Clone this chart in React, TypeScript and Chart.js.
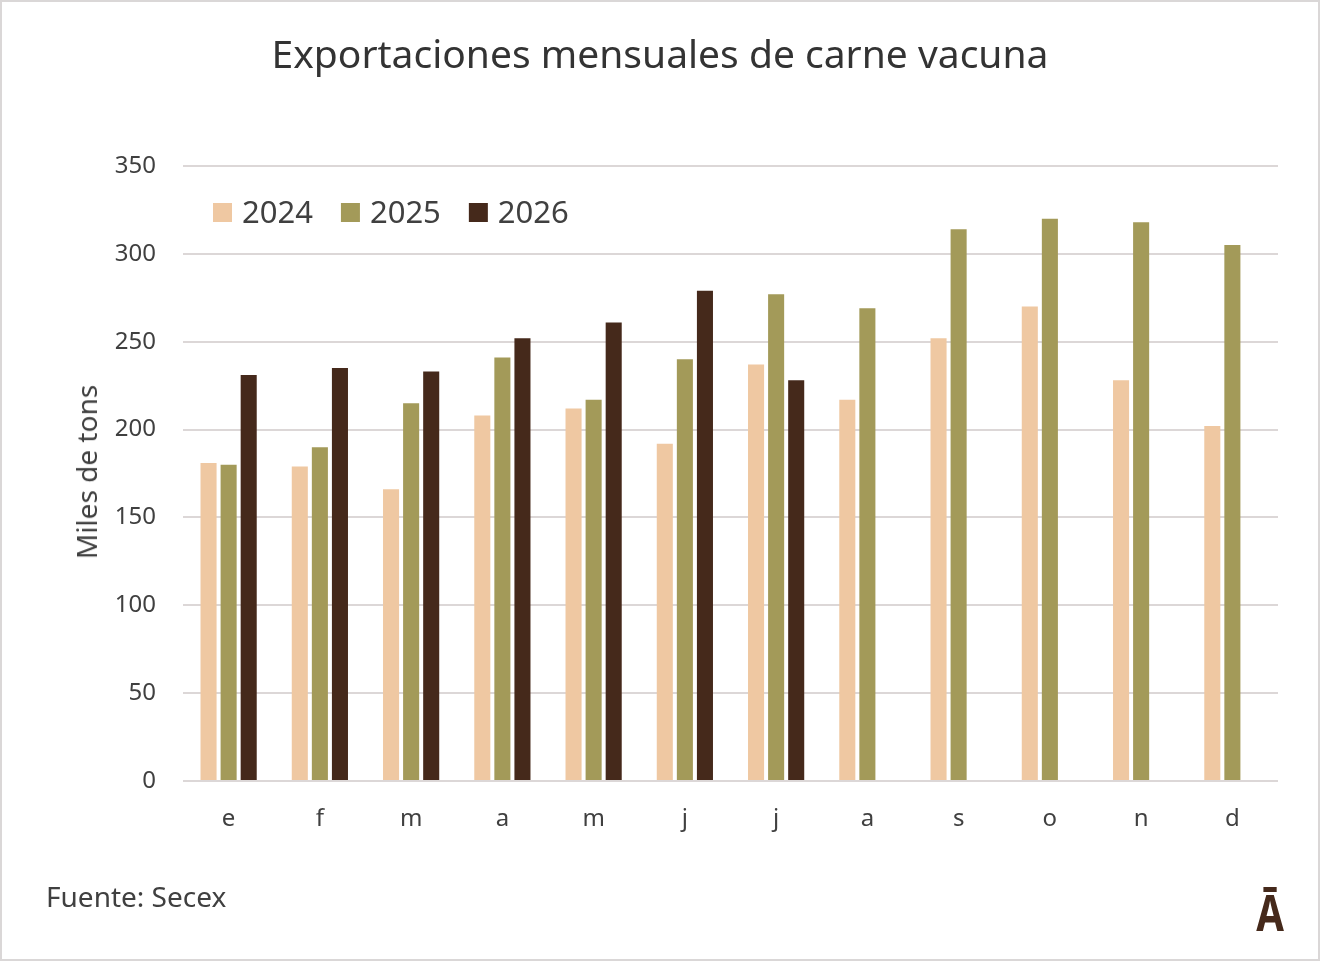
import React, { useEffect, useRef } from "react";
import { Chart, registerables } from "chart.js";

Chart.register(...registerables);

const months = ["e", "f", "m", "a", "m", "j", "j", "a", "s", "o", "n", "d"];
const seriesNames = ["2024", "2025", "2026"];
const values2024 = [181, 179, 166, 208, 212, 192, 237, 217, 252, 270, 228, 202];
const values2025 = [180, 190, 215, 241, 217, 240, 277, 269, 314, 320, 318, 305];
const values2026 = [231, 235, 233, 252, 261, 279, 228, null, null, null, null, null];
const colors = ["#EFC8A2", "#A39A59", "#45291B"];
const yTicks = [0, 50, 100, 150, 200, 250, 300, 350];

const FONT = "'Noto Sans', 'Open Sans', sans-serif";
const TEXT = "#404040";

const insideLegend = {
  id: "insideLegend",
  afterDraw(chart: any) {
    const ctx = chart.ctx;
    const area = chart.chartArea;
    ctx.save();
    ctx.font = `31px ${FONT}`;
    ctx.textBaseline = "middle";
    let x = area.left + 30;
    const y = area.top + 47;
    chart.data.datasets.forEach((ds: any) => {
      ctx.fillStyle = ds.backgroundColor;
      ctx.fillRect(x, y - 10, 19, 19);
      ctx.fillStyle = TEXT;
      ctx.fillText(ds.label, x + 29, y + 1);
      x += 29 + ctx.measureText(ds.label).width + 28;
    });
    ctx.restore();
  },
};

export default function App() {
  const ref = useRef<HTMLCanvasElement | null>(null);
  useEffect(() => {
    document.body.style.margin = "0";
    const chart = new Chart(ref.current as HTMLCanvasElement, {
      type: "bar",
      data: {
        labels: months,
        datasets: [values2024, values2025, values2026].map((d, i) => ({
          label: seriesNames[i],
          data: d,
          backgroundColor: colors[i],
          borderWidth: 0,
          categoryPercentage: 0.66,
          barPercentage: 0.8,
        })),
      },
      options: {
        animation: false,
        responsive: false,
        maintainAspectRatio: false,
        layout: { padding: { top: 166, right: 42, left: 0, bottom: 0 } },
        plugins: { legend: { display: false }, tooltip: { enabled: false } },
        scales: {
          x: {
            grid: { display: false, drawTicks: false },
            border: { display: false },
            ticks: { color: TEXT, font: { family: FONT, size: 24 }, padding: 24 },
            afterFit: (s: any) => {
              s.height = 961 - 781;
            },
          },
          y: {
            min: 0,
            max: 350,
            afterBuildTicks: (s: any) => {
              s.ticks = yTicks.map((v) => ({ value: v }));
            },
            grid: { color: "#DCD7D7", lineWidth: 2, drawTicks: false },
            border: { display: false },
            ticks: { color: TEXT, font: { family: FONT, size: 24 }, padding: 27 },
            afterFit: (s: any) => {
              s.width = 183;
            },
          },
        },
      },
      plugins: [insideLegend],
    });
    return () => chart.destroy();
  }, []);

  return (
    <div
      style={{
        position: "fixed",
        left: 0,
        top: 0,
        width: 1320,
        height: 961,
        background: "#fff",
        boxSizing: "border-box",
        fontFamily: FONT,
        color: TEXT,
      }}
    >
      <canvas ref={ref} width={1320} height={961} style={{ position: "absolute", left: 0, top: 0 }} />
      <div
        style={{
          position: "absolute",
          left: 0,
          right: 0,
          top: 53,
          textAlign: "center",
          fontSize: 39,
          lineHeight: "0px",
          color: "#333",
        }}
      >
        Exportaciones mensuales de carne vacuna
      </div>
      <div
        style={{
          position: "absolute",
          left: 86,
          top: 472,
          transform: "translate(-50%, -50%) rotate(-90deg)",
          fontSize: 28,
          whiteSpace: "nowrap",
          lineHeight: 1,
        }}
      >
        Miles de tons
      </div>
      <div style={{ position: "absolute", left: 46, top: 896, transform: "translateY(-50%)", fontSize: 28, lineHeight: 1 }}>
        Fuente: Secex
      </div>
      <div
        style={{
          position: "absolute",
          left: 1270,
          top: 912,
          transform: "translate(-50%, -50%) scaleX(0.8)",
          fontSize: 50,
          fontWeight: 700,
          color: "#45291B",
          lineHeight: 1,
          fontFamily: "'Noto Sans', sans-serif",
        }}
      >
        Ā
      </div>
      <div
        style={{
          position: "absolute",
          inset: 0,
          border: "2px solid #DAD7D7",
          pointerEvents: "none",
        }}
      />
    </div>
  );
}
